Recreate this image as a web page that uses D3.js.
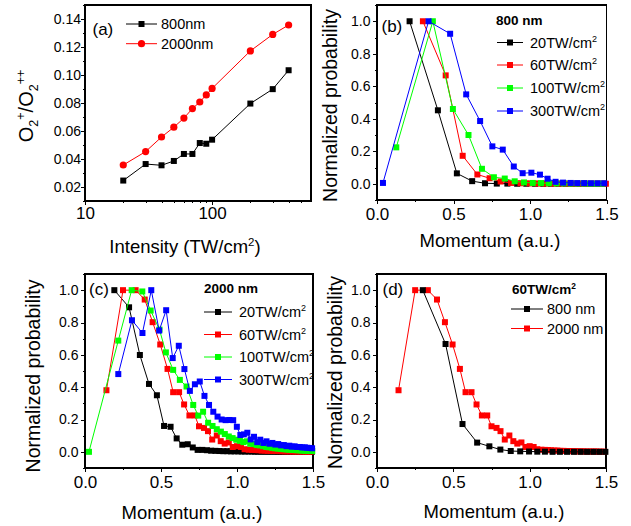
<!DOCTYPE html>
<html lang="en">
<head>
    <meta charset="UTF-8">
    <title>O2 momentum distributions</title>
    <script src="https://d3js.org/d3.v7.min.js"></script>
    <style>
        body {
            margin: 0;
            padding: 0;
            background: #fff;
        }
        svg {
            display: block;
            font-family: "Liberation Sans", Arial, sans-serif;
        }
        .axis path,
        .axis line {
            stroke: #000;
            shape-rendering: crispEdges;
        }
        .axis text {
            fill: #000;
        }
        .frame {
            fill: none;
            stroke: #000;
            stroke-width: 1.2px;
            shape-rendering: crispEdges;
        }
        .series {
            fill: none;
            stroke-width: 1px;
        }
    </style>
</head>
<body>
    <svg id="chart" width="631" height="526"></svg>

    <script>
        // (a) ratio vs intensity
        const intensity = [20, 30, 40, 50, 60, 70, 80, 90, 100, 200, 300, 400];
        const ratio800 = [0.0246, 0.0364, 0.0355, 0.0386, 0.0436, 0.0436, 0.0514, 0.0509, 0.0538, 0.0796, 0.0899, 0.1034];
        const ratio2000 = [0.0357, 0.0453, 0.0557, 0.0627, 0.0692, 0.0760, 0.0807, 0.0858, 0.0904, 0.1172, 0.1290, 0.1357];

        // (b) 800 nm, [momentum, probability]
        const b20 = [[0.213,1.0],[0.398,0.452],[0.522,0.064],[0.622,0.016],[0.706,0.003],[0.783,0.001],[0.852,0.001],[0.916,0],[0.976,0],[1.033,0],[1.086,0],[1.137,0],[1.186,0],[1.233,0],[1.278,0],[1.322,0],[1.364,0],[1.405,0],[1.445,0],[1.483,0]];
        const b60 = [[0.300,1.0],[0.449,0.667],[0.560,0.172],[0.656,0.057],[0.736,0.034],[0.808,0.014],[0.876,0.005],[0.938,0.003],[0.996,0.002],[1.050,0.001],[1.100,0.001],[1.150,0],[1.198,0],[1.245,0],[1.290,0],[1.334,0],[1.376,0],[1.417,0],[1.457,0],[1.496,0]];
        const b100 = [[0.126,0.224],[0.365,1.0],[0.496,0.46],[0.598,0.30],[0.686,0.092],[0.764,0.04],[0.835,0.032],[0.900,0.015],[0.961,0.008],[1.018,0.005],[1.072,0.004],[1.123,0.003],[1.173,0.002],[1.220,0.002],[1.265,0.001],[1.309,0.001],[1.352,0.001],[1.393,0],[1.433,0],[1.472,0]];
        const b300 = [[0.039,0.005],[0.337,1.0],[0.478,0.923],[0.583,0.55],[0.674,0.386],[0.754,0.23],[0.822,0.21],[0.894,0.106],[0.952,0.065],[1.009,0.068],[1.065,0.056],[1.115,0.031],[1.167,0.012],[1.216,0.007],[1.266,0.005],[1.309,0.004],[1.354,0.004],[1.398,0.003],[1.442,0.003],[1.485,0.003]];

        // (c) 2000 nm
        const c20 = [[0.193,1.0],[0.290,0.894],[0.361,0.599],[0.421,0.42],[0.473,0.35],[0.520,0.16],[0.563,0.155],[0.603,0.083],[0.640,0.044],[0.676,0.047],[0.709,0.027],[0.741,0.012],[0.772,0.012],[0.802,0.01],[0.830,0.007],[0.858,0.006],[0.884,0.005],[0.910,0.004],[0.936,0.004],[0.960,0.003],[0.984,0.003],[1.008,0.003],[1.030,0.002],[1.053,0.002],[1.075,0.002],[1.096,0.002],[1.117,0.001],[1.138,0.001],[1.158,0.001],[1.178,0.001],[1.198,0.001],[1.217,0.001],[1.236,0.001],[1.255,0.001],[1.273,0],[1.291,0],[1.309,0],[1.327,0],[1.344,0],[1.361,0],[1.378,0],[1.395,0],[1.412,0],[1.428,0],[1.444,0],[1.460,0],[1.476,0],[1.492,0]];
        const c60 = [[0.141,0.381],[0.250,1.0],[0.333,1.0],[0.393,0.942],[0.445,0.802],[0.495,0.664],[0.543,0.513],[0.580,0.369],[0.619,0.369],[0.652,0.293],[0.687,0.225],[0.722,0.225],[0.750,0.158],[0.783,0.148],[0.809,0.128],[0.837,0.076],[0.867,0.101],[0.893,0.066],[0.919,0.051],[0.946,0.058],[0.972,0.03],[1.000,0.035],[1.026,0.03],[1.050,0.016],[1.077,0.013],[1.099,0.012],[1.120,0.011],[1.141,0.01],[1.162,0.008],[1.182,0.008],[1.202,0.006],[1.222,0.006],[1.241,0.005],[1.260,0.005],[1.279,0.004],[1.297,0.004],[1.315,0.003],[1.333,0.003],[1.351,0.003],[1.368,0.002],[1.386,0.002],[1.403,0.002],[1.420,0.002],[1.436,0.002],[1.453,0.001],[1.469,0.001],[1.485,0.001]];
        const c100 = [[0.026,0.0],[0.219,0.688],[0.307,1.0],[0.377,0.992],[0.432,0.874],[0.490,0.756],[0.532,0.615],[0.580,0.507],[0.624,0.445],[0.668,0.404],[0.712,0.29],[0.745,0.224],[0.777,0.248],[0.810,0.18],[0.839,0.16],[0.867,0.14],[0.894,0.125],[0.920,0.11],[0.946,0.095],[0.971,0.085],[0.995,0.075],[1.019,0.068],[1.042,0.06],[1.065,0.065],[1.087,0.05],[1.109,0.048],[1.130,0.042],[1.151,0.04],[1.172,0.035],[1.192,0.03],[1.212,0.028],[1.231,0.025],[1.251,0.022],[1.270,0.02],[1.288,0.018],[1.307,0.016],[1.325,0.015],[1.343,0.013],[1.361,0.012],[1.378,0.011],[1.395,0.01],[1.412,0.009],[1.429,0.008],[1.446,0.007],[1.462,0.006],[1.479,0.006],[1.495,0.005]];
        const c300 = [[0.219,0.481],[0.309,0.814],[0.378,0.735],[0.436,1.0],[0.488,0.75],[0.534,0.876],[0.577,0.58],[0.617,0.656],[0.654,0.512],[0.690,0.377],[0.723,0.418],[0.755,0.435],[0.786,0.346],[0.816,0.29],[0.844,0.248],[0.872,0.218],[0.899,0.2],[0.925,0.196],[0.950,0.197],[0.975,0.196],[0.999,0.155],[1.022,0.104],[1.045,0.108],[1.068,0.118],[1.090,0.077],[1.112,0.093],[1.133,0.06],[1.153,0.075],[1.174,0.055],[1.194,0.065],[1.214,0.05],[1.233,0.055],[1.252,0.045],[1.271,0.048],[1.290,0.04],[1.308,0.042],[1.326,0.035],[1.344,0.038],[1.361,0.032],[1.379,0.034],[1.396,0.03],[1.413,0.03],[1.429,0.027],[1.446,0.028],[1.462,0.025],[1.478,0.024],[1.494,0.022]];

        // (d) 60 TW/cm2 uses the 800 nm and 2000 nm curves of (b) and (c)
        const d800 = b60;
        const d2000 = c60;

        const yTicksProb = [0, 0.2, 0.4, 0.6, 0.8, 1.0];
        const yMinorProb = [-0.1, 0.1, 0.3, 0.5, 0.7, 0.9, 1.1];
        const xTicksMom = [0, 0.5, 1.0, 1.5];
        const xMinorMom = [0.25, 0.75, 1.25];
        const xTicksInt = [10, 100];
        const xMinorInt = [20, 30, 40, 50, 60, 70, 80, 90, 200, 300, 400, 500];
        const yTicksRatio = [0.02, 0.04, 0.06, 0.08, 0.10, 0.12, 0.14];
        const yMinorRatio = [0.01, 0.03, 0.05, 0.07, 0.09, 0.11, 0.13, 0.15];

        const svg = d3.select("#chart");

        // axes + frame for one panel
        function axes(x, y, opt) {
            const g = svg.append("g");
            const [x0, x1] = x.range();
            const [y1, y0] = y.range();

            g.append("g").attr("class", "axis")
                .attr("transform", `translate(0,${y1})`)
                .call(d3.axisBottom(x).tickValues(opt.xMinor).tickSize(2).tickSizeOuter(0).tickFormat(""));
            g.append("g").attr("class", "axis")
                .attr("transform", `translate(0,${y1})`)
                .call(d3.axisBottom(x).tickValues(opt.xTicks).tickSize(4).tickSizeOuter(0)
                    .tickPadding(opt.xPad).tickFormat(opt.xFormat))
                .attr("font-size", 17)
                .attr("font-family", null);

            g.append("g").attr("class", "axis")
                .attr("transform", `translate(${x0},0)`)
                .call(d3.axisLeft(y).tickValues(opt.yMinor).tickSize(2).tickSizeOuter(0).tickFormat(""));
            g.append("g").attr("class", "axis")
                .attr("transform", `translate(${x0},0)`)
                .call(d3.axisLeft(y).tickValues(opt.yTicks).tickSize(4).tickSizeOuter(0)
                    .tickPadding(opt.yPad).tickFormat(d3.format(opt.yFormat)))
                .attr("font-size", 14)
                .attr("font-family", null);

            g.append("rect").attr("class", "frame")
                .attr("x", x0).attr("y", y0)
                .attr("width", x1 - x0).attr("height", y1 - y0);
            return g;
        }

        function square(g, cx, cy, color, s) {
            g.append("rect")
                .attr("x", cx - s / 2).attr("y", cy - s / 2)
                .attr("width", s).attr("height", s)
                .attr("fill", color);
        }

        function series(x, y, data, color) {
            svg.append("path")
                .datum(data)
                .attr("class", "series")
                .attr("stroke", color)
                .attr("d", d3.line().x(d => x(d[0])).y(d => y(d[1])));
            svg.append("g").selectAll("rect")
                .data(data)
                .join("rect")
                .attr("x", d => x(d[0]) - 3)
                .attr("y", d => y(d[1]) - 3)
                .attr("width", 6)
                .attr("height", 6)
                .attr("fill", color);
        }

        // text with a superscript part
        function supText(g, x, y, main, sup, size, weight) {
            const t = g.append("text")
                .attr("x", x).attr("y", y)
                .attr("font-size", size)
                .attr("font-weight", weight || "normal")
                .text(main);
            if (sup) {
                t.append("tspan").attr("dy", -size * 0.4).attr("font-size", size * 0.62).text(sup);
            }
            return t;
        }

        function legendRow(g, lx0, lx1, ly, tx, color, main, sup, marker) {
            g.append("line")
                .attr("x1", lx0).attr("x2", lx1)
                .attr("y1", ly).attr("y2", ly)
                .attr("stroke", color).attr("stroke-width", 1);
            if (marker === "circle") {
                g.append("circle").attr("cx", (lx0 + lx1) / 2).attr("cy", ly).attr("r", 3.6).attr("fill", color);
            } else {
                square(g, (lx0 + lx1) / 2, ly, color, 6);
            }
            supText(g, tx, ly + 5, main, sup, 14.5);
        }

        function yTitle(cx, cy, text) {
            svg.append("text")
                .attr("transform", `translate(${cx},${cy}) rotate(-90)`)
                .attr("text-anchor", "middle")
                .attr("font-size", 19.5)
                .text(text);
        }

        function xTitle(cx, by, text) {
            svg.append("text")
                .attr("x", cx).attr("y", by)
                .attr("text-anchor", "middle")
                .attr("font-size", 18.5)
                .text(text);
        }

        // ---------- (a) ----------
        const xa = d3.scaleLog().domain([10, 600]).range([85, 311]);
        const ya = d3.scaleLinear().domain([0.01, 0.15]).range([201, 5]);
        axes(xa, ya, {
            xTicks: xTicksInt, xMinor: xMinorInt, xFormat: d3.format("d"), xPad: 2,
            yTicks: yTicksRatio, yMinor: yMinorRatio, yFormat: ".2f", yPad: 0
        });
        const lineA = d3.line().x(d => xa(d[0])).y(d => ya(d[1]));
        const a800 = intensity.map((v, i) => [v, ratio800[i]]);
        const a2000 = intensity.map((v, i) => [v, ratio2000[i]]);
        svg.append("path").datum(a800).attr("class", "series").attr("stroke", "#000").attr("d", lineA);
        svg.append("g").selectAll("rect").data(a800).join("rect")
            .attr("x", d => xa(d[0]) - 3).attr("y", d => ya(d[1]) - 3)
            .attr("width", 6).attr("height", 6).attr("fill", "#000");
        svg.append("path").datum(a2000).attr("class", "series").attr("stroke", "#ff0000").attr("d", lineA);
        svg.append("g").selectAll("circle").data(a2000).join("circle")
            .attr("cx", d => xa(d[0])).attr("cy", d => ya(d[1])).attr("r", 3.6)
            .attr("fill", "#ff0000");

        const legA = svg.append("g");
        legendRow(legA, 126, 157, 24, 161, "#000", "800nm", null, "square");
        legendRow(legA, 126, 157, 43.7, 161, "#ff0000", "2000nm", null, "circle");
        svg.append("text").attr("x", 92.5).attr("y", 35).attr("font-size", 17).text("(a)");

        const ta = svg.append("text").attr("x", 185).attr("y", 253).attr("text-anchor", "middle").attr("font-size", 18.5);
        ta.append("tspan").text("Intensity (TW/cm");
        ta.append("tspan").attr("dy", -7).attr("font-size", 11.5).text("2");
        ta.append("tspan").attr("dy", 7).text(")");

        const ra = svg.append("text")
            .attr("transform", "translate(33,106) rotate(-90)")
            .attr("text-anchor", "middle")
            .attr("font-size", 20);
        ra.append("tspan").text("O");
        ra.append("tspan").attr("dy", 5).attr("font-size", 12.5).text("2");
        ra.append("tspan").attr("dy", -13).attr("font-size", 12.5).text("+");
        ra.append("tspan").attr("dy", 8).text("/O");
        ra.append("tspan").attr("dy", 5).attr("font-size", 12.5).text("2");
        ra.append("tspan").attr("dy", -13).attr("font-size", 12.5).text("++");

        // ---------- (b) ----------
        const xb = d3.scaleLinear().domain([0, 1.5]).range([377, 606.5]);
        const yb = d3.scaleLinear().domain([-0.1, 1.1]).range([200, 5]);
        const probOpt = {
            xTicks: xTicksMom, xMinor: xMinorMom, xFormat: d3.format(".1f"), xPad: 4,
            yTicks: yTicksProb, yMinor: yMinorProb, yFormat: ".1f", yPad: 2.5
        };
        axes(xb, yb, probOpt);
        series(xb, yb, b20, "#000");
        series(xb, yb, b60, "#ff0000");
        series(xb, yb, b100, "#00ff00");
        series(xb, yb, b300, "#0000ff");
        const legB = svg.append("g");
        legB.append("text").attr("x", 496).attr("y", 25).attr("font-size", 13.5).attr("font-weight", "bold").text("800 nm");
        legendRow(legB, 497, 523, 42.5, 530, "#000", "20TW/cm", "2");
        legendRow(legB, 497, 523, 65, 530, "#ff0000", "60TW/cm", "2");
        legendRow(legB, 497, 523, 88, 530, "#00ff00", "100TW/cm", "2");
        legendRow(legB, 497, 523, 111, 530, "#0000ff", "300TW/cm", "2");
        svg.append("text").attr("x", 381.5).attr("y", 32).attr("font-size", 17).text("(b)");
        xTitle(490, 247, "Momentum (a.u.)");
        yTitle(337, 105.5, "Normalized probability");

        // ---------- (c) ----------
        const xc = d3.scaleLinear().domain([0, 1.5]).range([85, 313]);
        const yc = d3.scaleLinear().domain([-0.1, 1.1]).range([468, 274]);
        axes(xc, yc, probOpt);
        series(xc, yc, c20, "#000");
        series(xc, yc, c60, "#ff0000");
        series(xc, yc, c100, "#00ff00");
        series(xc, yc, c300, "#0000ff");
        const legC = svg.append("g");
        legC.append("text").attr("x", 204).attr("y", 293).attr("font-size", 13.5).attr("font-weight", "bold").text("2000 nm");
        legendRow(legC, 204, 232, 312, 239, "#000", "20TW/cm", "2");
        legendRow(legC, 204, 232, 334.5, 239, "#ff0000", "60TW/cm", "2");
        legendRow(legC, 204, 232, 357, 239, "#00ff00", "100TW/cm", "2");
        legendRow(legC, 204, 232, 379.5, 239, "#0000ff", "300TW/cm", "2");
        svg.append("text").attr("x", 89).attr("y", 295).attr("font-size", 17).text("(c)");
        xTitle(192, 519, "Momentum (a.u.)");
        yTitle(40, 376, "Normalized probability");

        // ---------- (d) ----------
        const xd = d3.scaleLinear().domain([0, 1.5]).range([377, 606]);
        const yd = d3.scaleLinear().domain([-0.1, 1.1]).range([468, 274]);
        axes(xd, yd, probOpt);
        series(xd, yd, d2000, "#ff0000");
        series(xd, yd, d800, "#000");
        const legD = svg.append("g");
        supText(legD, 512, 294, "60TW/cm", "2", 13.5, "bold");
        legendRow(legD, 511, 543, 309, 547, "#000", "800 nm", null);
        legendRow(legD, 511, 543, 328.5, 547, "#ff0000", "2000 nm", null);
        svg.append("text").attr("x", 382.5).attr("y", 295).attr("font-size", 17).text("(d)");
        xTitle(494, 518, "Momentum (a.u.)");
        yTitle(342, 372.5, "Normalized probability");
    </script>
</body>
</html>
